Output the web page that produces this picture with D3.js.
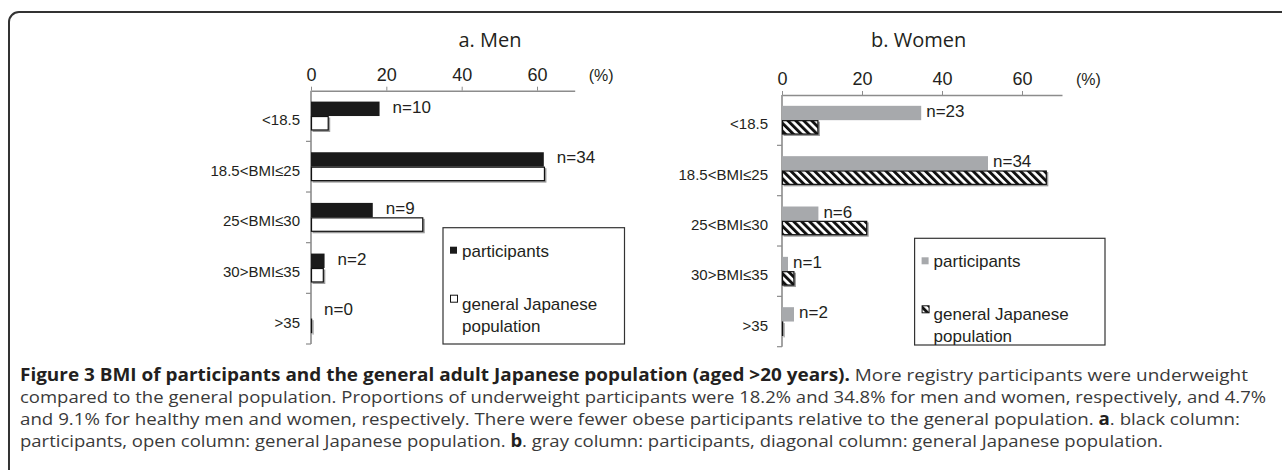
<!DOCTYPE html>
<html>
<head>
<meta charset="utf-8">
<script src="https://cdn.jsdelivr.net/npm/d3@7"></script>
<style>
  body { margin: 0; background: #fff; }
  svg text { font-family: "Liberation Sans", Arial, sans-serif; fill: #231f20; }
</style>
</head>
<body>
<script>
// Chart size
var width = 1282;
var height = 470;

// Data (percent of each group)
var categories = ["<18.5", "18.5<BMI\u226425", "25<BMI\u226430", "30>BMI\u226435", ">35"];
var menParticipants = [18.2, 61.8, 16.4, 3.6, 0];
var menGeneral = [4.7, 62.1, 29.8, 3.4, 0.3];
var menCounts = [10, 34, 9, 2, 0];
var womenParticipants = [34.8, 51.5, 9.1, 1.5, 3.0];
var womenGeneral = [9.1, 66.2, 21.3, 3.1, 0.3];
var womenCounts = [23, 34, 6, 1, 2];
var tickValues = [0, 20, 40, 60];
var xMax = 70;
var legendLabels = ["participants", "general Japanese", "population"];

var captionLines = [
  [{b: true, t: "Figure 3 BMI of participants and the general adult Japanese population (aged >20 years)."},
   {b: false, t: " More registry participants were underweight"}],
  [{b: false, t: "compared to the general population. Proportions of underweight participants were 18.2% and 34.8% for men and women, respectively, and 4.7%"}],
  [{b: false, t: "and 9.1% for healthy men and women, respectively. There were fewer obese participants relative to the general population. "},
   {b: true, t: "a"}, {b: false, t: ". black column:"}],
  [{b: false, t: "participants, open column: general Japanese population. "},
   {b: true, t: "b"}, {b: false, t: ". gray column: participants, diagonal column: general Japanese population."}]
];
// right end of each caption line in the figure
var captionEnds = [1248, 1266, 1240, 1163];

var svg = d3.select('body').append('svg')
  .attr('width', width)
  .attr('height', height);

// diagonal hatch for the women's general population bars
var defs = svg.append('defs');
defs.append('pattern')
  .attr('id', 'hatch')
  .attr('patternUnits', 'userSpaceOnUse')
  .attr('width', 5.6)
  .attr('height', 5.6)
  .attr('patternTransform', 'rotate(-45)')
  .call(p => {
    p.append('rect').attr('width', 5.6).attr('height', 5.6).attr('fill', '#fff');
    p.append('rect').attr('width', 2.9).attr('height', 5.6).attr('fill', '#111');
  });

// rounded frame that runs off the right and bottom
svg.append('rect')
  .attr('x', 9).attr('y', 12)
  .attr('width', 1400).attr('height', 600)
  .attr('rx', 10)
  .attr('fill', 'none')
  .attr('stroke', '#333')
  .attr('stroke-width', 2);

drawPanel({
  title: "a. Men", titleX: 490,
  left: 311, right: 574.7, top: 90.7, bottom: 344,
  labelRight: 300,
  participants: menParticipants, general: menGeneral, counts: menCounts,
  partFill: '#1a1a1a', genFill: '#fff',
  countGap: 13,
  legend: {x: 443, y: 227.7, w: 181.5, h: 116.3}
});

drawPanel({
  title: "b. Women", titleX: 918.7,
  left: 782, right: 1062, top: 95, bottom: 346.7,
  labelRight: 768,
  participants: womenParticipants, general: womenGeneral, counts: womenCounts,
  partFill: '#a7a9ac', genFill: 'url(#hatch)',
  countGap: 5,
  legend: {x: 914.6, y: 238.3, w: 190.4, h: 106.7}
});

drawCaption();

function drawPanel(opt) {
  var g = svg.append('g');

  var x = d3.scaleLinear().domain([0, xMax]).range([opt.left, opt.right]);
  var y = d3.scaleBand().domain(categories)
    .range([opt.top, opt.bottom])
    .paddingInner(0.43).paddingOuter(0.215);
  var sub = d3.scaleBand().domain(['part', 'gen']).range([0, y.bandwidth()]);

  // title
  g.append('text')
    .attr('x', opt.titleX).attr('y', 47)
    .attr('text-anchor', 'middle')
    .style('font-family', '"Open Sans", sans-serif')
    .style('font-size', '20px')
    .text(opt.title);

  // top axis
  var axis = g.append('g')
    .attr('transform', 'translate(0,' + opt.top + ')')
    .call(d3.axisTop(x).tickValues(tickValues).tickSize(4).tickSizeOuter(0).tickPadding(6));
  axis.select('.domain').attr('stroke', '#8c8c8c').attr('stroke-width', 1.6);
  axis.selectAll('.tick line').attr('stroke', '#8c8c8c');
  axis.selectAll('.tick text')
    .attr('fill', '#231f20')
    .style('font-family', '"Liberation Sans Narrow", "Liberation Sans", sans-serif')
    .style('font-size', '18px');

  g.append('text')
    .attr('x', x(xMax) + 14).attr('y', opt.top - 10)
    .style('font-family', '"Liberation Sans Narrow", "Liberation Sans", sans-serif')
    .style('font-size', '16px')
    .text('(%)');

  // left axis with ticks between categories
  g.append('line')
    .attr('x1', x(0)).attr('x2', x(0))
    .attr('y1', opt.top).attr('y2', opt.bottom)
    .attr('stroke', '#8c8c8c').attr('stroke-width', 1.6);
  var step = y.step();
  g.selectAll('.ytick')
    .data(categories)
    .enter().append('line')
    .attr('x1', x(0) - 5).attr('x2', x(0))
    .attr('y1', (d, i) => opt.top + step * (i + 1))
    .attr('y2', (d, i) => opt.top + step * (i + 1))
    .attr('stroke', '#8c8c8c').attr('stroke-width', 1.2);

  g.selectAll('.cat')
    .data(categories)
    .enter().append('text')
    .attr('x', opt.labelRight)
    .attr('y', d => y(d) + y.bandwidth() / 2 + 9)
    .attr('text-anchor', 'end')
    .style('font-size', '15px')
    .text(d => d);

  var rows = categories.map((c, i) => ({
    cat: c, part: opt.participants[i], gen: opt.general[i], n: opt.counts[i]
  }));

  // shadows (Excel style)
  g.selectAll('.shadow')
    .data(rows)
    .enter().append('rect')
    .attr('x', x(0) + 1.5)
    .attr('y', d => y(d.cat) + sub('gen') + 1.5)
    .attr('width', d => x(d.gen) - x(0))
    .attr('height', sub.bandwidth())
    .attr('fill', '#9a9a9a');

  // participants
  g.selectAll('.part')
    .data(rows)
    .enter().append('rect')
    .attr('x', x(0))
    .attr('y', d => y(d.cat) + sub('part'))
    .attr('width', d => x(d.part) - x(0))
    .attr('height', sub.bandwidth())
    .attr('fill', opt.partFill);

  // general population
  g.selectAll('.gen')
    .data(rows)
    .enter().append('rect')
    .attr('x', x(0) + 0.5)
    .attr('y', d => y(d.cat) + sub('gen') + 0.5)
    .attr('width', d => Math.max(0, x(d.gen) - x(0) - 1))
    .attr('height', sub.bandwidth() - 1)
    .attr('fill', opt.genFill)
    .attr('stroke', '#111')
    .attr('stroke-width', 1.2);

  // n= labels
  g.selectAll('.count')
    .data(rows)
    .enter().append('text')
    .attr('x', d => x(d.part) + opt.countGap)
    .attr('y', d => y(d.cat) + sub('part') + sub.bandwidth() / 2 - 2)
    .attr('dy', '0.35em')
    .style('font-family', '"Liberation Sans Narrow", "Liberation Sans", sans-serif')
    .style('font-size', '17px')
    .text(d => 'n=' + d.n);

  // legend
  var L = opt.legend;
  var lg = g.append('g').attr('transform', 'translate(' + L.x + ',' + L.y + ')');
  lg.append('rect')
    .attr('width', L.w).attr('height', L.h)
    .attr('fill', '#fff')
    .attr('stroke', '#333').attr('stroke-width', 1.2);
  lg.append('rect')
    .attr('x', 7).attr('y', 19).attr('width', 7).attr('height', 7)
    .attr('fill', opt.partFill);
  lg.append('rect')
    .attr('x', 7.5).attr('y', 67.5).attr('width', 7).attr('height', 7)
    .attr('fill', opt.genFill).attr('stroke', '#111').attr('stroke-width', 1);
  lg.selectAll('.leg')
    .data(legendLabels)
    .enter().append('text')
    .attr('x', 19)
    .attr('y', (d, i) => [29, 82, 104][i])
    .style('font-size', '17px')
    .text(d => d);
}

function drawCaption() {
  var startX = 20;
  var cap = svg.append('g');
  cap.selectAll('text')
    .data(captionLines)
    .enter().append('text')
    .attr('x', startX)
    .attr('y', (d, i) => 381 + i * 22)
    .attr('textLength', (d, i) => captionEnds[i] - startX)
    .attr('lengthAdjust', 'spacingAndGlyphs')
    .style('font-family', '"Open Sans", sans-serif')
    .style('font-size', '17px')
    .each(function(line) {
      d3.select(this).selectAll('tspan')
        .data(line)
        .enter().append('tspan')
        .style('font-weight', d => d.b ? 700 : 400)
        .attr('fill', d => d.b ? '#231f20' : '#3a3a3a')
        .text(d => d.t);
    });
}
</script>
</body>
</html>
